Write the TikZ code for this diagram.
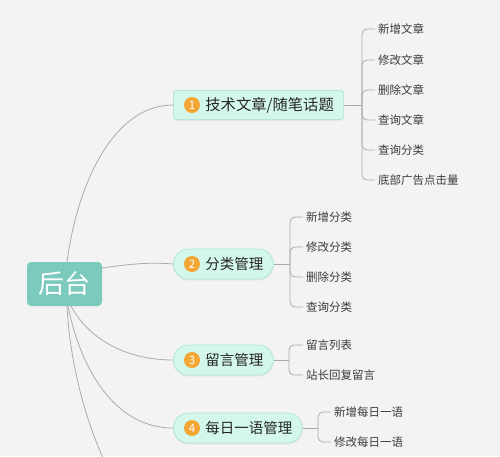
\documentclass[tikz,border=0pt]{standalone}
\usepackage{fontspec}
\newfontfamily\cjk{Noto Sans CJK SC}
\usetikzlibrary{positioning, shadows}

\definecolor{bgcol}{HTML}{F3F3F3}
\definecolor{rootcol}{HTML}{7CCABD}
\definecolor{mint}{HTML}{D3F7EA}
\definecolor{mintedge}{HTML}{B4E5D5}
\definecolor{badgecol}{HTML}{F3A633}
\definecolor{linecol}{HTML}{ABABAB}
\definecolor{leafcol}{HTML}{3C3C3C}

\tikzset{
  conn/.style={draw=linecol, line width=0.8pt},
  bracket/.style={conn, rounded corners=5pt},
  rootbox/.style={fill=rootcol, draw=none, rounded corners=4pt, text=white,
    minimum width=75pt, minimum height=44pt, font=\cjk\fontsize{26}{28}\selectfont},
  branch/.style={fill=mint, draw=mintedge, line width=0.8pt, anchor=west,
    minimum height=30pt, inner xsep=10pt, text=black!85,
    drop shadow={shadow xshift=0pt, shadow yshift=-1.5pt, fill=black!15},
    font=\cjk\fontsize{14.5}{16}\selectfont},
  pill/.style={branch, rounded corners=15pt},
  badge/.style={circle, fill=badgecol, text=white, inner sep=0pt,
    minimum size=16pt, font=\cjk\fontsize{11.5}{12}\selectfont},
  leaf/.style={anchor=west, inner xsep=3pt, text=leafcol,
    font=\cjk\fontsize{11.5}{13}\selectfont}
}

\begin{document}
\begin{tikzpicture}[x=1pt, y=-1pt]
        % Background
        \fill[bgcol] (0,0) rectangle (500,456);
        \useasboundingbox (0,0) rectangle (500,456);

        % Root
        \node[rootbox] (root) at (64.5,284) {后台};

        % Branches
        \node[branch, rounded corners=3pt, minimum height=29pt,
              font=\cjk\fontsize{15.3}{17}\selectfont] (b1) at (173,105) {\hspace{22pt}技术文章/随笔话题};
        \node[pill] (b2) at (173,264) {\hspace{22pt}分类管理};
        \node[pill] (b3) at (173,360) {\hspace{22pt}留言管理};
        \node[pill] (b4) at (173,428) {\hspace{22pt}每日一语管理};

        \node[badge] (n1) at ([xshift=19pt]b1.west) {1};
        \node[badge] (n2) at ([xshift=19pt]b2.west) {2};
        \node[badge] (n3) at ([xshift=19pt]b3.west) {3};
        \node[badge] (n4) at ([xshift=19pt]b4.west) {4};

        % Root to branches
        \coordinate (r1) at (67,262);
        \coordinate (r3) at (71,306);
        \coordinate (r4) at (68,306);
        \coordinate (r5) at (67,306);
        \coordinate (cut) at (103,458);
        \draw[conn] (r1) .. controls (78,180) and (115,105) .. (b1.west);
        \draw[conn] (root.east |- 0,268) .. controls (130,264) and (150,262) .. (b2.west);
        \draw[conn] (r3) .. controls (88,338) and (125,360) .. (b3.west);
        \draw[conn] (r4) .. controls (82,375) and (118,428) .. (b4.west);
        \draw[conn] (r5) .. controls (70,365) and (86,420) .. (cut);

        % Leaves of branch 1
        \coordinate (j1) at (362,105);
        \node[leaf] (l11) at (375,29) {新增文章};
        \node[leaf] (l12) at (375,60) {修改文章};
        \node[leaf] (l13) at (375,90) {删除文章};
        \node[leaf] (l14) at (375,120) {查询文章};
        \node[leaf] (l15) at (375,150) {查询分类};
        \node[leaf] (l16) at (375,180) {底部广告点击量};
        \draw[conn] (b1.east) -- (j1);
        \foreach \l in {l11,l12,l13,l14,l15,l16}
          \draw[bracket] (j1) |- (\l.west);

        % Leaves of branch 2
        \coordinate (j2) at (290,264);
        \node[leaf] (l21) at (303,217) {新增分类};
        \node[leaf] (l22) at (303,247) {修改分类};
        \node[leaf] (l23) at (303,277) {删除分类};
        \node[leaf] (l24) at (303,307) {查询分类};
        \draw[conn] (b2.east) -- (j2);
        \foreach \l in {l21,l22,l23,l24}
          \draw[bracket] (j2) |- (\l.west);

        % Leaves of branch 3
        \coordinate (j3) at (289,360);
        \node[leaf] (l31) at (303,345) {留言列表};
        \node[leaf] (l32) at (303,375) {站长回复留言};
        \draw[conn] (b3.east) -- (j3);
        \foreach \l in {l31,l32}
          \draw[bracket] (j3) |- (\l.west);

        % Leaves of branch 4
        \coordinate (j4) at (318,428);
        \node[leaf] (l41) at (331,412) {新增每日一语};
        \node[leaf] (l42) at (331,442) {修改每日一语};
        \draw[conn] (b4.east) -- (j4);
        \foreach \l in {l41,l42}
          \draw[bracket] (j4) |- (\l.west);

    \end{tikzpicture}
\end{document}
